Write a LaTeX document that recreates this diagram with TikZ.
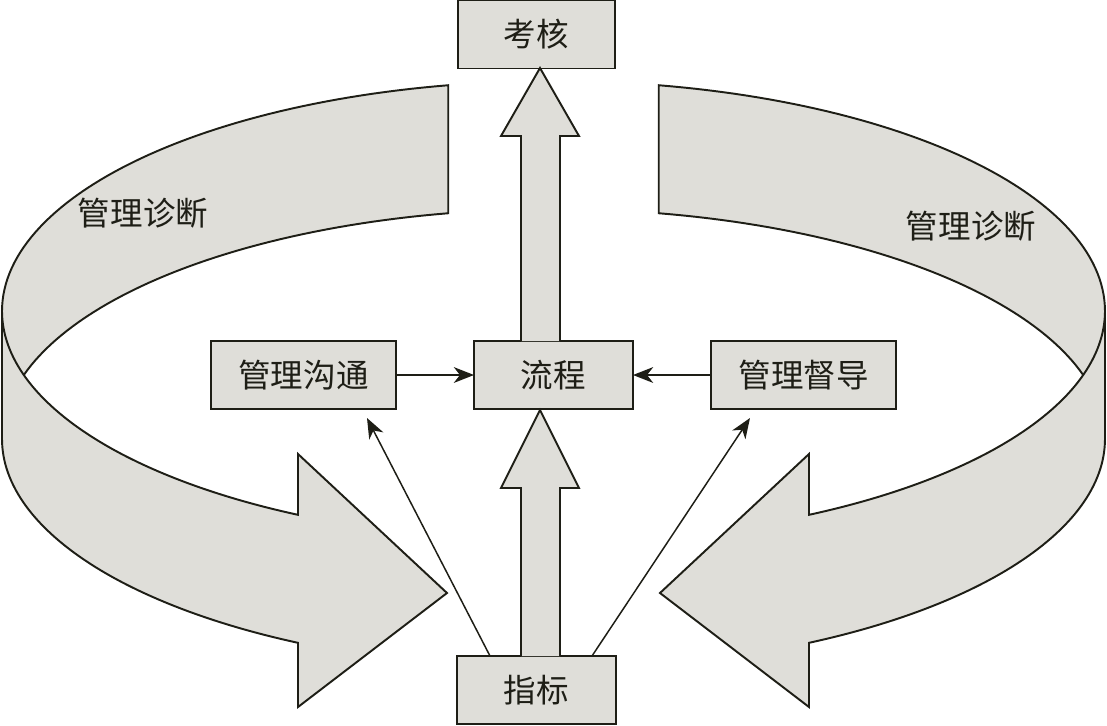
\documentclass[tikz,border=0pt]{standalone}
\usepackage{fontspec}
\newfontfamily\cjk{Noto Sans CJK SC}
\usepackage{tikz}
\usetikzlibrary{arrows.meta,calc}
\definecolor{bandgray}{RGB}{223,222,217}
\definecolor{inkdark}{RGB}{30,30,22}

\begin{document}
\begin{tikzpicture}[x=0.02cm, y=-0.02cm,
    box/.style={rectangle, draw=inkdark, fill=bandgray, line width=1.1pt,
        minimum height=1.36cm, inner sep=0pt, outer sep=0pt, text=inkdark,
        font=\cjk\fontsize{18.5}{20}\selectfont},
    ribbon/.style={draw=inkdark, fill=bandgray, line width=1.1pt, line join=miter},
    bigarrow/.style={draw=inkdark, fill=bandgray, line width=1.1pt},
    thinarrow/.style={-{Stealth[length=11.5pt, width=9pt, inset=3.5pt]}, draw=inkdark, line width=0.85pt},
    tag/.style={text=inkdark, font=\cjk\fontsize{18.5}{20}\selectfont}
]
    \useasboundingbox (0,0) rectangle (1107,725);

    % back halves of the two bands
    \draw[ribbon] plot[domain=259:180, samples=60] ({553.5+551.5*cos(\x)},{311+230*sin(\x)})
        -- plot[domain=180:259, samples=60] ({553.5+551.5*cos(\x)},{439+230*sin(\x)}) -- cycle;
    \draw[ribbon] plot[domain=-79:0, samples=60] ({553.5+551.5*cos(\x)},{311+230*sin(\x)})
        -- plot[domain=0:-79, samples=60] ({553.5+551.5*cos(\x)},{439+230*sin(\x)}) -- cycle;

    % front halves with the heads
    \draw[ribbon] plot[domain=180:117.6, samples=60] ({553.5+551.5*cos(\x)},{311+230*sin(\x)})
        -- (298,454) -- (447,593) -- (298,707)
        -- plot[domain=117.6:180, samples=60] ({553.5+551.5*cos(\x)},{439+230*sin(\x)}) -- cycle;
    \draw[ribbon] plot[domain=0:62.4, samples=60] ({553.5+551.5*cos(\x)},{311+230*sin(\x)})
        -- (809,454) -- (660,593) -- (809,707)
        -- plot[domain=62.4:0, samples=60] ({553.5+551.5*cos(\x)},{439+230*sin(\x)}) -- cycle;

    \node[tag] (zhenduanL) at (143,213) {管理诊断};
    \node[tag] (zhenduanR) at (971,226) {管理诊断};

    \node[box, minimum width=3.14cm] (kaohe) at (536.5,34.5) {考核};
    \node[box, minimum width=3.18cm] (liucheng) at (553.5,375) {流程};
    \node[box, minimum width=3.7cm] (goutong) at (303.5,375) {管理沟通};
    \node[box, minimum width=3.7cm] (dudao) at (803.5,375) {管理督导};
    \node[box, minimum width=3.18cm] (zhibiao) at (536.5,690) {指标};

    % wide arrows
    \draw[bigarrow] (521,656) -- (521,488) -- (501,488) -- (540,410) -- (579,488) -- (560,488) -- (560,656);
    \draw[bigarrow] (521,341) -- (521,136) -- (501,136) -- (540,68) -- (579,136) -- (560,136) -- (560,341);

    \draw[thinarrow] (goutong) -- (liucheng);
    \draw[thinarrow] (dudao) -- (liucheng);
    \draw[thinarrow] ($(zhibiao.north west)+(33,0)$) -- ($(goutong.south)+(63.5,9)$);
    \draw[thinarrow] ($(zhibiao.north east)+(-24,0)$) -- ($(dudao.south)+(-53.5,9)$);
\end{tikzpicture}
\end{document}
